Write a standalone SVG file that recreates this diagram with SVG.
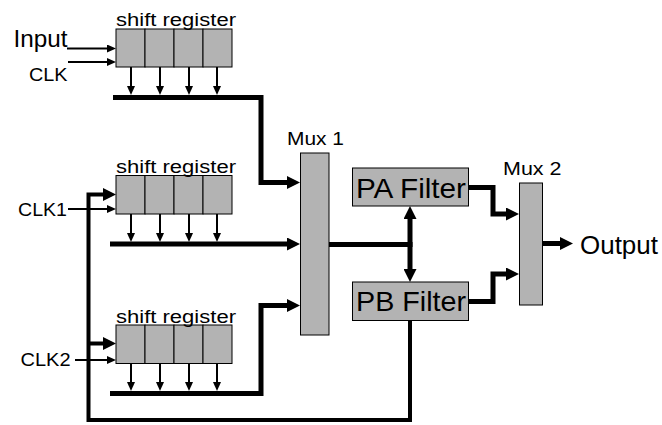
<svg xmlns="http://www.w3.org/2000/svg" width="662" height="425" viewBox="0 0 662 425">
<style>
.cell{fill:#b3b3b3;stroke:#000;stroke-width:1}
.t{font-family:"Liberation Sans",Arial,sans-serif;fill:#000}
.thin{fill:none;stroke:#000;stroke-width:2}
.thick{fill:none;stroke:#000;stroke-width:5;stroke-linejoin:miter}
.fb{fill:none;stroke:#000;stroke-width:4}
</style>
<defs>
<marker id="ah" markerUnits="userSpaceOnUse" markerWidth="9" markerHeight="8" refX="1" refY="4" orient="auto"><path d="M0,0 L9,4 L0,8 z" fill="#000"/></marker>
<marker id="AH" markerUnits="userSpaceOnUse" markerWidth="13" markerHeight="13" refX="1" refY="6.5" orient="auto-start-reverse"><path d="M0,0 L13,6.5 L0,13 z" fill="#000"/></marker>
</defs>

<g id="reg1">
<rect class="cell" x="116" y="29" width="29" height="38"/><rect class="cell" x="145" y="29" width="29" height="38"/><rect class="cell" x="174" y="29" width="29" height="38"/><rect class="cell" x="203" y="29" width="29" height="38"/>
<text class="t" x="116" y="26" font-size="18" textLength="120" lengthAdjust="spacingAndGlyphs">shift register</text>
</g>
<g id="reg2">
<rect class="cell" x="116" y="175.5" width="29" height="38.5"/><rect class="cell" x="145" y="175.5" width="29" height="38.5"/><rect class="cell" x="174" y="175.5" width="29" height="38.5"/><rect class="cell" x="203" y="175.5" width="29" height="38.5"/>
<text class="t" x="116" y="173" font-size="18" textLength="120" lengthAdjust="spacingAndGlyphs">shift register</text>
</g>
<g id="reg3">
<rect class="cell" x="116" y="325" width="29" height="38.5"/><rect class="cell" x="145" y="325" width="29" height="38.5"/><rect class="cell" x="174" y="325" width="29" height="38.5"/><rect class="cell" x="203" y="325" width="29" height="38.5"/>
<text class="t" x="116" y="322.5" font-size="18" textLength="120" lengthAdjust="spacingAndGlyphs">shift register</text>
</g>
<g id="mux1">
<rect class="cell" x="300.5" y="153" width="28.5" height="182"/>
<text class="t" x="287" y="145" font-size="17.5" textLength="57" lengthAdjust="spacingAndGlyphs">Mux 1</text>
</g>
<g id="pa">
<rect class="cell" x="352.5" y="168" width="116" height="38"/>
<text class="t" x="356" y="197.5" font-size="28" textLength="110" lengthAdjust="spacingAndGlyphs">PA Filter</text>
</g>
<g id="pb">
<rect class="cell" x="352.5" y="282" width="116" height="38.5"/>
<text class="t" x="356" y="311" font-size="28" textLength="110" lengthAdjust="spacingAndGlyphs">PB Filter</text>
</g>
<g id="mux2">
<rect class="cell" x="519.5" y="183" width="23" height="122"/>
<text class="t" x="503" y="175" font-size="17.5" textLength="58.5" lengthAdjust="spacingAndGlyphs">Mux 2</text>
</g>
<g id="labels">
<text class="t" x="13.5" y="46.5" font-size="24" textLength="54" lengthAdjust="spacingAndGlyphs">Input</text>
<text class="t" x="29" y="81" font-size="17.5" textLength="38.5" lengthAdjust="spacingAndGlyphs">CLK</text>
<text class="t" x="18" y="216" font-size="18" textLength="49" lengthAdjust="spacingAndGlyphs">CLK1</text>
<text class="t" x="20.5" y="366" font-size="18" textLength="50" lengthAdjust="spacingAndGlyphs">CLK2</text>
<text class="t" x="580" y="254" font-size="25" textLength="78" lengthAdjust="spacingAndGlyphs">Output</text>
</g>

<g id="connectors">
<line class="thin" x1="67" y1="48.5" x2="108" y2="48.5" marker-end="url(#ah)"/>
<line class="thin" x1="68" y1="62" x2="108" y2="62" marker-end="url(#ah)"/>
<line class="thin" x1="68" y1="209" x2="108" y2="209" marker-end="url(#ah)"/>
<line class="thin" x1="75" y1="360" x2="108" y2="360" marker-end="url(#ah)"/>

<line class="thin" x1="131" y1="67" x2="131" y2="87" marker-end="url(#ah)"/>
<line class="thin" x1="160" y1="67" x2="160" y2="87" marker-end="url(#ah)"/>
<line class="thin" x1="189" y1="67" x2="189" y2="87" marker-end="url(#ah)"/>
<line class="thin" x1="217" y1="67" x2="217" y2="87" marker-end="url(#ah)"/>

<line class="thin" x1="131" y1="214" x2="131" y2="234" marker-end="url(#ah)"/>
<line class="thin" x1="160" y1="214" x2="160" y2="234" marker-end="url(#ah)"/>
<line class="thin" x1="189" y1="214" x2="189" y2="234" marker-end="url(#ah)"/>
<line class="thin" x1="217" y1="214" x2="217" y2="234" marker-end="url(#ah)"/>

<line class="thin" x1="131" y1="363.5" x2="131" y2="383" marker-end="url(#ah)"/>
<line class="thin" x1="160" y1="363.5" x2="160" y2="383" marker-end="url(#ah)"/>
<line class="thin" x1="189" y1="363.5" x2="189" y2="383" marker-end="url(#ah)"/>
<line class="thin" x1="217" y1="363.5" x2="217" y2="383" marker-end="url(#ah)"/>

<polyline class="thick" points="113,97.5 261,97.5 261,182.5 288,182.5" marker-end="url(#AH)"/>
<line class="thick" x1="110" y1="244" x2="288" y2="244" marker-end="url(#AH)"/>
<polyline class="thick" points="110,393.5 261,393.5 261,305.5 288,305.5" marker-end="url(#AH)"/>

<polyline class="fb" points="410,320.5 410,420 88.5,420 88.5,194.5 104,194.5" marker-end="url(#AH)"/>
<line class="fb" x1="88.5" y1="343.5" x2="104" y2="343.5" marker-end="url(#AH)"/>

<line class="thick" x1="329" y1="244.5" x2="412.5" y2="244.5"/>
<line class="thick" x1="410" y1="218" x2="410" y2="270" marker-start="url(#AH)" marker-end="url(#AH)"/>

<polyline class="thick" points="468.5,187.5 493,187.5 493,214 507,214" marker-end="url(#AH)"/>
<polyline class="thick" points="468.5,301.5 493,301.5 493,274 507,274" marker-end="url(#AH)"/>
<line class="thick" x1="542.5" y1="243.5" x2="561" y2="243.5" marker-end="url(#AH)"/>
</g>
</svg>
